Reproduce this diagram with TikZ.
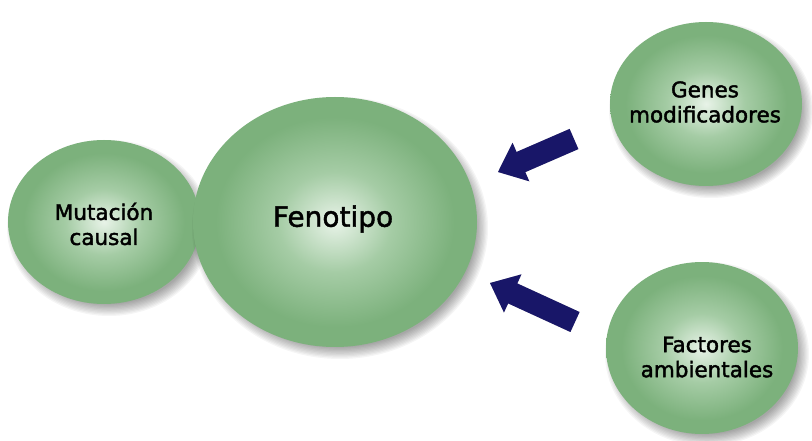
\documentclass[tikz,border=0pt]{standalone}
\usepackage{fontspec}
\setmainfont{DejaVu Sans}
\newfontfamily\boldishfont[FakeBold=1.9]{DejaVu Sans}
\newfontfamily\bigfont[FakeBold=1.5]{DejaVu Sans}
\usetikzlibrary{calc}
\definecolor{gedge}{RGB}{124,177,124}
\definecolor{gmid}{RGB}{165,204,165}
\definecolor{gcen}{RGB}{232,243,232}
\definecolor{navyarrow}{RGB}{24,22,104}
\pgfdeclareradialshading{greenball}{\pgfpoint{0bp}{0bp}}{%
  color(0bp)=(gcen); color(10bp)=(gmid); color(21bp)=(gedge); color(25bp)=(gedge); color(50bp)=(gedge)}
\tikzset{
  ball/.style={shading=greenball},
  softshadow/.style={fill=black, opacity=0.04},
  smalltxt/.style={font=\boldishfont\fontsize{21.5}{25}\selectfont, align=center, text=black},
  bigtxt/.style={font=\bigfont\fontsize{28}{30}\selectfont, text=black},
  blockarrow/.style={fill=navyarrow},
  arrowshadow/.style={fill=black, opacity=0.06}
}
\newcommand\myball[4]{%
  \foreach \i in {0,...,9}{%
    \path[softshadow] (#1+5,#2+6) ellipse [x radius=#3+6-1.3*\i, y radius=#4+6-1.3*\i];}
  \path[ball] (#1,#2) ellipse [x radius=#3, y radius=#4];}
\newcommand\myarrowpath[2]{%
  ($(#1)!11pt!90:(#2)$) -- ($(#1b)!11pt!90:(#2)$) -- ($(#1b)!21pt!90:(#2)$)
     -- (#2) -- ($(#1b)!21pt!-90:(#2)$) -- ($(#1b)!11pt!-90:(#2)$) -- ($(#1)!11pt!-90:(#2)$) -- cycle}
\newcommand\myarrow[2]{%
  \coordinate (#1b) at ($(#2)!25pt!(#1)$);
  \foreach \s in {1,2,3,4}{%
    \path[arrowshadow, shift={(\s,\s)}] \myarrowpath{#1}{#2};}
  \path[blockarrow] \myarrowpath{#1}{#2};}
\begin{document}
\begin{tikzpicture}[x=1pt,y=-1pt]
\useasboundingbox[fill=white] (0,0) rectangle (812,441);
% circles
\myball{104}{222}{96}{82}
\node[smalltxt] (mut) at (104,224) {Mutación\\causal};
\myball{335}{222}{142}{125}
\node[bigtxt] (fen) at (333,219) {Fenotipo};
\myball{706}{104}{96}{82}
\node[smalltxt] (gen) at (705,102) {Genes\\modificadores};
\myball{702}{348}{96}{86}
\node[smalltxt] (fac) at (707,357) {Factores\\ambientales};
% arrows
\coordinate (ta) at (574,139);
\coordinate (pa) at (498,172);
\coordinate (tb) at (575,322);
\coordinate (pb) at (490,283);
\myarrow{ta}{pa}
\myarrow{tb}{pb}
\end{tikzpicture}
\end{document}
